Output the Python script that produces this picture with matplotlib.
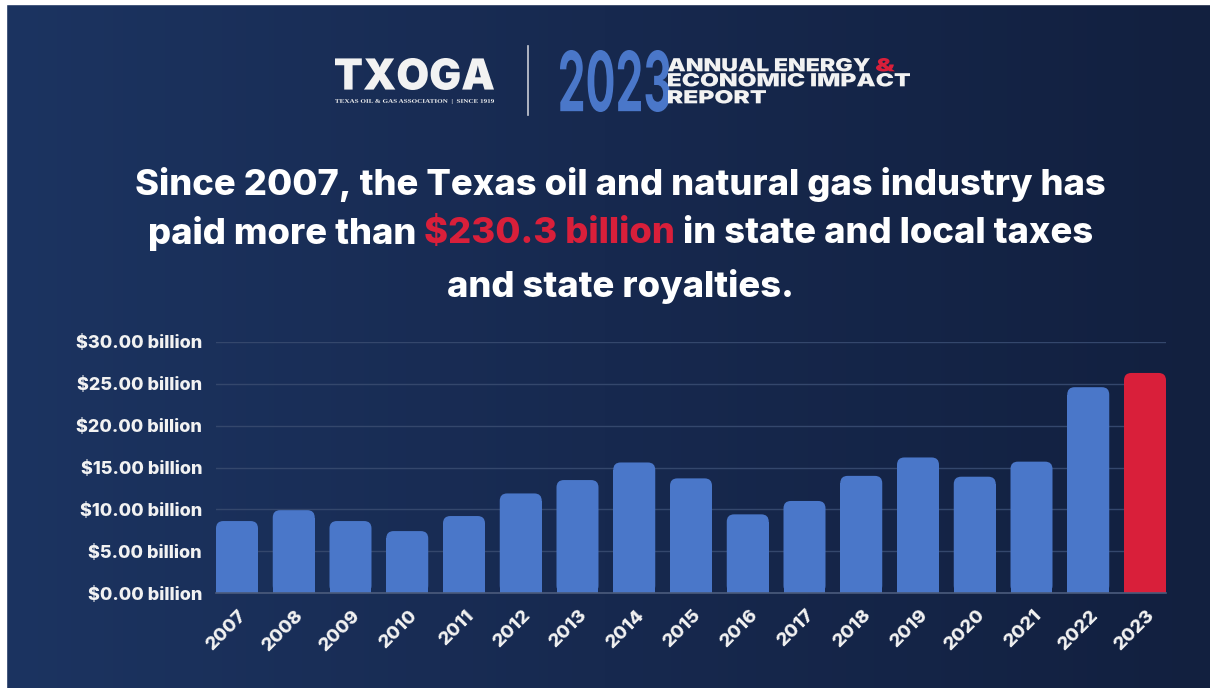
import numpy as np
import matplotlib.pyplot as plt
from matplotlib.patches import FancyBboxPatch, PathPatch, Rectangle
from matplotlib.textpath import TextPath
from matplotlib.font_manager import FontProperties
from matplotlib.transforms import Affine2D, ScaledTranslation
from matplotlib.colors import LinearSegmentedColormap

years = ["2007", "2008", "2009", "2010", "2011", "2012", "2013", "2014", "2015",
         "2016", "2017", "2018", "2019", "2020", "2021", "2022", "2023"]
taxes_billion = [8.6, 9.9, 8.6, 7.4, 9.2, 11.9, 13.5, 15.6, 13.7,
                 9.4, 11.0, 14.0, 16.2, 13.9, 15.7, 24.6, 26.3]
y_ticks = [0, 5, 10, 15, 20, 25, 30]
total_label = "$230.3 billion"

BLUE = "#4a77c9"
RED = "#d91f3a"
WHITE = "#f2f2f2"
FONT = "Inter"

W, H = 1210, 688
fig = plt.figure(figsize=(W / 100, H / 100), dpi=100)

# navy background, a little lighter on the left
bg = fig.add_axes([0, 0, 1, 1], zorder=-10)
cmap = LinearSegmentedColormap.from_list("navy", ["#1c3461", "#17294f", "#12203f"])
grad = np.tile(np.linspace(0, 1, 256), (16, 1))
bg.imshow(grad, cmap=cmap, aspect="auto", extent=[0, 1, 0, 1])
bg.set_xlim(0, 1)
bg.set_ylim(0, 1)
bg.axis("off")
fig.patches.append(Rectangle((0, 0), 6 / W, 1, transform=fig.transFigure,
                             color="white", zorder=5))
fig.patches.append(Rectangle((0, 1 - 4 / H), 1, 4 / H, transform=fig.transFigure,
                             color="white", zorder=5))


def fit_text(s, x0, y0, x1, y1, color, weight="heavy", family=FONT):
    """Draw s as a path squeezed into the pixel box (x0, y0)-(x1, y1), y downward."""
    tp = TextPath((0, 0), s, size=50, prop=FontProperties(family=family, weight=weight))
    ext = tp.get_extents()
    sx = (x1 - x0) / W / ext.width
    sy = (y1 - y0) / H / ext.height
    tr = Affine2D().translate(-ext.x0, -ext.y0).scale(sx, sy).translate(x0 / W, 1 - y1 / H)
    fig.patches.append(PathPatch(tr.transform_path(tp), transform=fig.transFigure,
                                 facecolor=color, edgecolor="none"))


# header logos
fit_text("TXOGA", 335, 58, 494, 90, WHITE, weight="black")
fit_text("TEXAS OIL & GAS ASSOCIATION  |  SINCE 1919", 335, 99, 494, 104, WHITE,
         weight="bold", family="Liberation Serif")
fig.add_artist(plt.Line2D([528 / W, 528 / W], [1 - 46 / H, 1 - 115 / H],
                          transform=fig.transFigure, color="#c9ccd4", lw=1.2))
fit_text("2023", 560, 50, 670, 112, BLUE, weight="bold")
fit_text("ANNUAL ENERGY", 668, 58, 870, 71.5, WHITE, weight="black")
fit_text("&", 876, 58, 895, 71.5, RED, weight="black")
fit_text("ECONOMIC IMPACT", 668, 73, 910, 86.5, WHITE, weight="black")
fit_text("REPORT", 668, 90, 766, 103.5, WHITE, weight="black")

renderer = fig.canvas.get_renderer()

# headline
head = dict(fontsize=26.2, color="white", family=FONT, weight="heavy", va="center")
fig.text(0.513, 1 - 184 / H, "Since 2007, the Texas oil and natural gas industry has",
         ha="center", **head)
fig.text(0.513, 1 - 286 / H, "and state royalties.", ha="center", **head)
parts = [("paid more than ", "white"), (total_label, RED),
         (" in state and local taxes", "white")]
pieces = [fig.text(0, 1 - 234 / H, s, ha="left", **{**head, "color": c}) for s, c in parts]
widths = [p.get_window_extent(renderer).width for p in pieces]
x = 0.513 * W - sum(widths) / 2
for p, w in zip(pieces, widths):
    p.set_x(x / W)
    x += w

# bar chart
ax = fig.add_axes([216 / W, 1 - 593 / H, 950 / W, 251 / H])
ax.set_facecolor("none")
bw = 0.74
rx, ry = 0.13, 0.88
for i, v in enumerate(taxes_billion):
    c = RED if i == len(years) - 1 else BLUE
    ax.bar(i, v - ry, width=bw, color=c, lw=0, zorder=3)
    ax.add_patch(FancyBboxPatch((i - bw / 2, 0), bw, v,
                                boxstyle=f"round,pad=0,rounding_size={rx}",
                                mutation_aspect=ry / rx, facecolor=c,
                                edgecolor="none", zorder=3))

ax.set_xlim(-bw / 2, len(years) - 1 + bw / 2)
ax.set_ylim(0, 30)
ax.set_yticks(y_ticks)
ax.set_yticklabels([f"${v:.2f} billion" for v in y_ticks])
ax.grid(axis="y", color="#34476c", lw=1, zorder=0)
for side in ["top", "right", "left"]:
    ax.spines[side].set_visible(False)
ax.spines["bottom"].set_color("#4b5b7c")
ax.spines["bottom"].set_linewidth(1.2)
ax.spines["bottom"].set_zorder(4)
ax.tick_params(axis="both", length=0, colors=WHITE)
ax.tick_params(axis="y", pad=10)
ax.tick_params(axis="x", pad=10)
for lab in ax.get_yticklabels():
    lab.set_fontproperties(FontProperties(family=FONT, weight="heavy", size=13))
ax.set_xticks(range(len(years)))
ax.set_xticklabels(years, rotation=45, ha="right", va="top")
shift = ScaledTranslation(13 / 100, 0, fig.dpi_scale_trans)
for lab in ax.get_xticklabels():
    lab.set_fontproperties(FontProperties(family=FONT, weight="heavy", size=13.5))
    lab.set_transform(lab.get_transform() + shift)

fig.savefig("out.png", dpi=100)
